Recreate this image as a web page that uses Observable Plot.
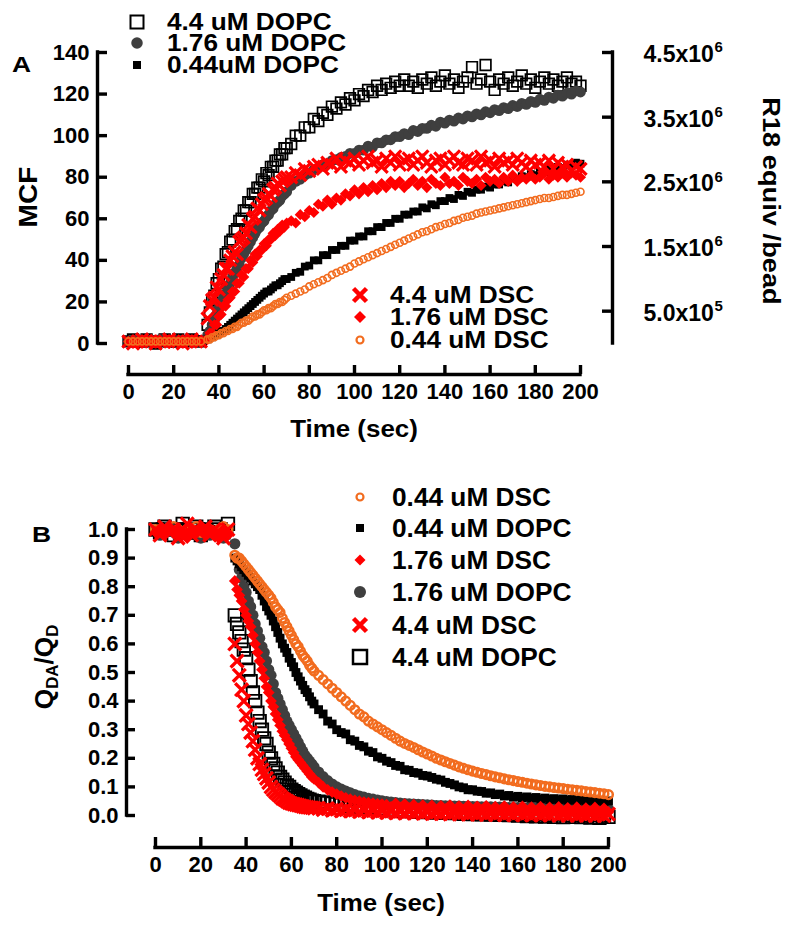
<!DOCTYPE html>
<html><head><meta charset="utf-8">
<script src="https://cdn.jsdelivr.net/npm/d3@7"></script>
<script src="https://cdn.jsdelivr.net/npm/@observablehq/plot@0.6"></script>
<style>
body{margin:0;background:#fff;}
#wrap{position:relative;width:800px;height:930px;overflow:hidden;background:#fff;font-family:"Liberation Sans",Arial,Helvetica,sans-serif;font-weight:bold;}
#pa,#pb,#ov{position:absolute;left:0;}
#pa{top:0}#pb{top:450px}#ov{top:0;pointer-events:none}
#err{position:absolute;left:0;top:0;color:blue;font-size:12px}
</style></head>
<body><div id="wrap"><div id="pa"></div><div id="pb"></div><svg id="ov" width="800" height="930"></svg><div id="err"></div></div>
<script>
// ---------- sample times (sec) ----------
const tSec = [0,2,4,6,8,10,12,14,16,18,20,22,24,26,28,30,32,
35,36,37,38,39,40,41,42,43,44,45,46,47,48,49,50,51,52,53,54,55,56,57,58,59,60,61,62,63,64,65,66,67,68,69,70,
72,74,76,78,80,82,84,86,88,90,92,94,96,98,100,102,104,106,108,110,112,114,116,118,120,122,124,126,128,130,132,134,136,138,140,142,144,146,148,150,152,154,156,158,160,162,164,166,168,170,172,174,176,178,180,182,184,186,188,190,192,194,196,198,200];

// ---------- Panel A: MCF ----------
const mcfDopc44 = [1,2,1,1,2,1,0,1,2,1,1,2,1,1,2,1,1,
9,15,21,23,29,31,36,37,43,44,49,50,54,55,59,60,64,64,68,68,72,72,75,75,79,78,82,81,85,85,88,88,91,91,94,94,
96,100,100,104,104,108,107,111,110,114,113,116,115,118,117,120,119,122,121,124,122,125,123,126,124,127,124,126,123,127,125,128,124,126,129,125,127,123,126,128,133,125,127,134,126,122,127,125,128,124,126,129,125,127,123,126,128,125,127,124,126,128,125,126,124];
const mcfDopc176 = [1,1,2,1,1,1,1,2,1,1,1,1,1,2,1,1,1,
4,6,9,11,14,17,20,22,24,27,29,32,34,36,38,41,43,45,47,49,51,53,55,56,58,59,61,62,64,65,67,68,69,71,72,73,
76,78,79,81,82,83.5,84.5,86,86.5,88,88.5,89.5,90,91.5,91.5,93,93,95,94.5,96.5,96.5,98,98,99.5,99.5,101,100.5,102.5,102,103.5,103.5,105,104.5,106.5,106,107.5,107,108.5,108,109.5,109,110.5,110,111.5,111,112.5,112,113.5,113,114.5,114,115.5,115,116.5,116,117.5,117,118.5,118,119.5,119,120.5,120,121.5,121];
const mcfDopc044 = [1,1,1,0,1,1,1,1,1,1,0,1,1,1,1,1,1,
2,3,3,4,4,5,6,6,7,8,9,10,11,12,13,14,15,16,17,18,19,20,21,22,23,24,25,25,26,27,28,28,29,30,31,31,
32,34,34.5,37,37.5,40,40,42.5,42.5,45,45,47,47,49.5,49.5,51.5,51.5,54,54,56,56,58,58,60,60,62,62,63.5,63.5,65.5,65,67,66.5,68.5,68.5,70,69.5,71.5,71,73,72.5,74,74,75.5,75,76.5,76.5,78,77.5,79.5,79,80.5,80,81.5,81,82.5,82.5,84,83.5,85,84.5,86,85.5,87,86.5];
const mcfDsc44 = [1,0,1,2,1,1,0,1,1,2,1,1,0,1,2,1,1,
12,18,21,22,27,26,31,33,36,36,40,42,44,43,49,50,51,53,57,56,60,61,65,64,67,69,70,72,71,74,75,77,76,78,79,80,
80,82,81,84,83,85,86,84,87,86,89,85,88,87,89,86,88,90,87,88,85,89,87,90,86,88,89,86,88,90,87,85,88,89,86,88,90,87,86,89,88,86,90,87,88,85,89,87,88,86,89,87,85,88,86,87,85,88,84,87,85,86,83,85,84];
const mcfDsc176 = [1,1,0,1,1,2,1,1,1,0,1,1,1,2,1,1,1,
2,5,5,9,9,13,14,18,18,21,22,25,25,29,29,33,32,36,36,40,39,43,42,45,45,48,47,50,50,53,52,55,54,57,56,58,
59,58,62,61,64,63,67,66,69,67,70,69,72,71,74,72,75,73,76,74,77,75,78,76,78,75,77,79,76,78,75,79,77,76,80,77,78,76,80,78,77,79,76,80,78,79,77,80,78,81,78,80,79,81,79,80,82,79,81,80,82,80,82,81,80];
const mcfDsc044 = [1,1,1,1,1,1,1,1,1,1,1,1,1,1,1,1,1,
2,2,3,3,4,4,5,5,6,6,7,7,8,8,9,10,10,11,11,12,13,13,14,14,15,16,16,17,17,18,19,19,20,20,21,22,
23,24,25,26,27.5,28.5,29.5,30.5,31.5,33,34,35,36,37,38.5,39.5,40.5,41.5,42.5,43.5,44.5,45.5,46.5,47.5,48.5,49.5,50.5,51.5,52.5,53.5,54,55,56,56.5,57.5,58,59,59.5,60.5,61,61.5,62.5,63,63.5,64,64.5,65,65.5,66,66.5,67,67.5,68,68.5,69,69.5,70,70,70.5,71,71.5,71.5,72,72.5,73];

// ---------- Panel B: QDA/QD ----------
const qDopc44 = [1.0,0.99,1.01,1.0,0.98,1.0,1.02,0.99,1.0,1.01,0.98,1.0,0.99,1.01,1.0,0.99,1.02,
0.70,0.67,0.64,0.61,0.58,0.55,0.51,0.47,0.43,0.40,0.36,0.33,0.30,0.27,0.25,0.22,0.20,0.18,0.165,0.15,0.135,0.125,0.115,0.105,0.10,0.09,0.085,0.08,0.075,0.07,0.066,0.062,0.058,0.055,0.052,0.05,
0.048,0.046,0.044,0.042,0.04,0.038,0.036,0.034,0.032,0.03,0.028,0.027,0.025,0.024,0.022,0.021,0.018,0.02,0.016,0.019,0.015,0.017,0.013,0.016,0.012,0.014,0.01,0.013,0.009,0.012,0.008,0.011,0.006,0.01,0.005,0.009,0.004,0.008,0.003,0.007,0.002,0.006,0.001,0.005,0,0.004,-0.002,0.003,-0.003,0.004,-0.004,0.002,-0.005,0.003,-0.006,0.001,-0.005,0.002,-0.006,0,-0.007,0.001,-0.008,0,-0.005];
const qDopc176 = [1.0,0.98,1.0,1.01,0.99,0.97,1.0,0.98,1.0,0.99,0.97,1.0,0.98,0.99,1.0,0.97,0.99,
0.95,0.90,0.86,0.83,0.80,0.78,0.75,0.73,0.70,0.67,0.645,0.62,0.59,0.57,0.54,0.51,0.49,0.46,0.43,0.41,0.39,0.37,0.35,0.33,0.315,0.30,0.285,0.27,0.255,0.24,0.225,0.21,0.20,0.19,0.18,0.17,
0.152,0.136,0.122,0.11,0.10,0.092,0.085,0.079,0.073,0.068,0.064,0.06,0.057,0.054,0.051,0.049,0.047,0.045,0.043,0.042,0.041,0.04,0.039,0.038,0.037,0.036,0.035,0.035,0.034,0.034,0.033,0.033,0.032,0.032,0.031,0.031,0.03,0.03,0.03,0.029,0.029,0.029,0.028,0.028,0.028,0.027,0.027,0.027,0.026,0.026,0.026,0.026,0.025,0.025,0.025,0.025,0.024,0.024,0.024,0.024,0.023,0.023,0.023,0.023,0.022];
const qDopc044 = [1.0,1.01,0.99,1.0,1.0,0.99,1.01,1.0,0.98,1.0,1.01,0.99,1.0,1.0,0.99,1.01,1.0,
0.90,0.89,0.88,0.87,0.86,0.85,0.84,0.83,0.82,0.81,0.80,0.79,0.77,0.75,0.73,0.715,0.70,0.68,0.66,0.64,0.62,0.60,0.585,0.57,0.55,0.535,0.52,0.50,0.485,0.47,0.455,0.44,0.43,0.415,0.40,0.39,
0.37,0.355,0.33,0.32,0.30,0.29,0.285,0.265,0.26,0.245,0.24,0.225,0.22,0.205,0.2,0.19,0.185,0.175,0.172,0.16,0.158,0.15,0.148,0.14,0.138,0.133,0.127,0.124,0.116,0.112,0.107,0.1,0.097,0.09,0.09,0.085,0.084,0.078,0.079,0.073,0.075,0.068,0.07,0.064,0.067,0.062,0.065,0.06,0.063,0.058,0.061,0.056,0.059,0.055,0.058,0.053,0.056,0.052,0.055,0.051,0.054,0.05,0.053,0.049,0.051];
const qDsc044 = [1.0,1.0,0.99,1.0,1.01,1.0,0.99,1.0,1.0,1.01,0.99,1.0,1.0,0.99,1.0,1.01,1.0,
0.91,0.90,0.90,0.89,0.88,0.87,0.86,0.85,0.84,0.83,0.82,0.81,0.80,0.79,0.78,0.77,0.76,0.745,0.73,0.72,0.71,0.69,0.675,0.66,0.645,0.63,0.615,0.60,0.59,0.575,0.56,0.55,0.54,0.525,0.515,0.505,
0.49,0.475,0.46,0.445,0.43,0.415,0.40,0.385,0.37,0.355,0.345,0.33,0.32,0.31,0.30,0.29,0.28,0.27,0.26,0.252,0.245,0.238,0.23,0.222,0.215,0.208,0.20,0.194,0.188,0.182,0.176,0.17,0.165,0.16,0.155,0.151,0.147,0.143,0.139,0.135,0.132,0.128,0.125,0.122,0.119,0.116,0.113,0.11,0.107,0.105,0.102,0.10,0.098,0.096,0.094,0.092,0.09,0.088,0.086,0.084,0.082,0.08,0.078,0.076,0.073];
const qDsc176 = [0.99,1.0,0.98,1.01,0.99,1.0,0.98,0.97,1.0,0.99,1.01,0.98,1.0,0.99,0.97,1.0,0.98,
0.82,0.79,0.77,0.75,0.72,0.70,0.68,0.66,0.63,0.60,0.57,0.54,0.51,0.48,0.45,0.43,0.40,0.38,0.355,0.335,0.315,0.295,0.28,0.265,0.25,0.235,0.22,0.205,0.195,0.185,0.175,0.165,0.155,0.145,0.135,0.128,
0.115,0.10,0.09,0.082,0.075,0.068,0.062,0.057,0.053,0.05,0.047,0.045,0.043,0.041,0.04,0.038,0.03,0.042,0.028,0.04,0.026,0.038,0.025,0.036,0.022,0.035,0.02,0.034,0.022,0.036,0.018,0.033,0.02,0.035,0.017,0.032,0.019,0.034,0.016,0.031,0.018,0.033,0.015,0.03,0.017,0.032,0.014,0.029,0.016,0.031,0.013,0.028,0.015,0.03,0.012,0.027,0.014,0.029,0.011,0.026,0.013,0.028,0.01,0.025,0.012];
const qDsc44 = [1.0,0.98,1.01,0.99,1.0,0.97,1.0,1.02,0.98,1.0,0.99,1.01,0.98,1.0,0.99,0.97,1.0,
0.60,0.54,0.49,0.44,0.40,0.35,0.32,0.29,0.26,0.23,0.20,0.18,0.16,0.145,0.13,0.115,0.10,0.09,0.082,0.075,0.068,0.06,0.055,0.05,0.045,0.042,0.04,0.038,0.036,0.034,0.032,0.03,0.029,0.028,0.027,0.026,
0.025,0.02,0.024,0.018,0.022,0.016,0.02,0.015,0.019,0.013,0.018,0.012,0.017,0.011,0.016,0.01,0.015,0.009,0.014,0.008,0.014,0.008,0.013,0.007,0.013,0.006,0.012,0.006,0.012,0.005,0.011,0.005,0.011,0.004,0.01,0.004,0.01,0.003,0.01,0.003,0.009,0.002,0.009,0.002,0.009,0.002,0.008,0.001,0.008,0.001,0.008,0.001,0.007,0,0.007,0,0.007,0,0.006,0,0.006,-0.001,0.006,-0.001,0.005];

// ---------- ticks ----------
const xTicks = [0,20,40,60,80,100,120,140,160,180,200];
const yTicksA = [0,20,40,60,80,100,120,140];
const yTicksB = [0,0.1,0.2,0.3,0.4,0.5,0.6,0.7,0.8,0.9,1.0];
const r18Ticks = [5e5,1.5e6,2.5e6,3.5e6,4.5e6];
const r18Mant = ["5.0x10","1.5x10","2.5x10","3.5x10","4.5x10"];
const r18Exp = ["5","6","6","6","6"];
const r18Max = 4.5e6, mcfMax = 140;

const RED = "#ff0000", ORANGE = "#f26c1f", GRAY = "#3f3f3f", BLACK = "#000";
const FONT = '"Liberation Sans", Arial, Helvetica, sans-serif';
const AXW = 3.4;

// length check
const all = {mcfDopc44,mcfDopc176,mcfDopc044,mcfDsc44,mcfDsc176,mcfDsc044,qDopc44,qDopc176,qDopc044,qDsc044,qDsc176,qDsc44};
const bad = Object.entries(all).filter(([k,v]) => v.length !== tSec.length).map(([k,v]) => k + ":" + v.length);
if (bad.length) document.getElementById("err").textContent = "len " + tSec.length + " bad " + bad.join(" ");

const dots = (vals, o) => Plot.dot(vals, {x: tSec, y: vals, ...o});

// ---------- Panel A ----------
const WA = 800, HA = 450;
const LA = 97, RA = 612, TA = 52, BA = 374, X0A = 128, X1A = 580, Y0A = 343;
const plotA = Plot.plot({
  width: WA, height: HA,
  marginLeft: LA, marginRight: WA - RA, marginTop: TA, marginBottom: HA - BA,
  x: {domain: [0, 200], range: [X0A, X1A]},
  y: {domain: [0, mcfMax], range: [Y0A, TA]},
  style: {fontFamily: FONT, fontWeight: "bold", fontSize: "22px", background: "transparent", overflow: "visible", color: "#000"},
  marks: [
    Plot.ruleX([0], {y1: 0, y2: mcfMax, dx: LA - X0A, strokeWidth: AXW, strokeLinecap: "square"}),
    Plot.ruleX([200], {y1: 0, y2: mcfMax, dx: RA - X1A, strokeWidth: AXW, strokeLinecap: "square"}),
    Plot.ruleY([0], {x1: 0, x2: 200, dy: BA - Y0A, strokeWidth: AXW, strokeLinecap: "square"}),
    Plot.tickX(xTicks, {x: d => d, insetTop: (BA - TA) - 9, strokeWidth: AXW}),
    Plot.tickY(yTicksA, {y: d => d, insetRight: (RA - LA) - 10, strokeWidth: AXW}),
    Plot.tickY(r18Ticks, {y: d => d * mcfMax / r18Max, insetLeft: (RA - LA) - 10, strokeWidth: AXW}),
    Plot.axisX({ticks: xTicks, tickSize: 0, tickPadding: 9, label: null, fontSize: 22}),
    Plot.axisY({ticks: yTicksA, tickSize: 0, tickPadding: 8, label: null, fontSize: 22}),
    Plot.text(r18Ticks, {y: d => d * mcfMax / r18Max, text: (d, i) => r18Mant[i], frameAnchor: "right", dx: 31, dy: 2, textAnchor: "start", fontSize: 23}),
    Plot.text(r18Ticks, {y: d => d * mcfMax / r18Max, text: (d, i) => r18Exp[i], frameAnchor: "right", dx: 102, dy: -5, textAnchor: "start", fontSize: 15}),
    dots(mcfDopc44, {symbol: "square", r: 6, fill: "none", stroke: BLACK, strokeWidth: 1.7}),
    dots(mcfDopc176, {symbol: "circle", r: 5.4, fill: GRAY, stroke: "none"}),
    dots(mcfDopc044, {symbol: "square", r: 4.4, fill: BLACK, stroke: "none"}),
    dots(mcfDsc44, {symbol: "times", r: 5.6, fill: "none", stroke: RED, strokeWidth: 3.2}),
    dots(mcfDsc176, {symbol: "diamond2", r: 5, fill: RED, stroke: "none"}),
    dots(mcfDsc044, {symbol: "circle", r: 3.5, fill: "none", stroke: ORANGE, strokeWidth: 1.6})
  ]
});
document.getElementById("pa").appendChild(plotA);

// ---------- Panel B ----------
const WB = 800, HB = 480;
const LB = 126, RB = 608, TB = 79, BB = 397, X0B = 155, X1B = 608, Y0B = 365;
const plotB = Plot.plot({
  width: WB, height: HB,
  marginLeft: LB, marginRight: WB - RB, marginTop: TB, marginBottom: HB - BB,
  x: {domain: [0, 200], range: [X0B, X1B]},
  y: {domain: [0, 1], range: [Y0B, TB]},
  style: {fontFamily: FONT, fontWeight: "bold", fontSize: "22px", background: "transparent", overflow: "visible", color: "#000"},
  marks: [
    Plot.ruleX([0], {y1: 0, y2: 1, dx: LB - X0B, strokeWidth: AXW, strokeLinecap: "square"}),
    Plot.ruleY([0], {x1: 0, x2: 200, dy: BB - Y0B, strokeWidth: AXW, strokeLinecap: "square"}),
    Plot.tickX(xTicks, {x: d => d, insetTop: (BB - TB) - 10, strokeWidth: AXW}),
    Plot.tickY(yTicksB, {y: d => d, insetRight: (RB - LB) - 9, strokeWidth: AXW}),
    Plot.axisX({ticks: xTicks, tickSize: 0, tickPadding: 9, label: null, fontSize: 22}),
    Plot.axisY({ticks: yTicksB, tickSize: 0, tickPadding: 8, label: null, fontSize: 22, tickFormat: d3.format(".1f")}),
    dots(qDopc44, {symbol: "square", r: 7, fill: "none", stroke: BLACK, strokeWidth: 1.9}),
    dots(qDopc176, {symbol: "circle", r: 5.6, fill: GRAY, stroke: "none"}),
    dots(qDopc044, {symbol: "square", r: 5, fill: BLACK, stroke: "none"}),
    dots(qDsc044, {symbol: "circle", r: 4.3, fill: "none", stroke: ORANGE, strokeWidth: 2.5}),
    dots(qDsc176, {symbol: "diamond2", r: 5.3, fill: RED, stroke: "none"}),
    dots(qDsc44, {symbol: "times", r: 5.9, fill: "none", stroke: RED, strokeWidth: 3.3})
  ]
});
document.getElementById("pb").appendChild(plotB);

// ---------- overlay: titles and legends ----------
const ov = d3.select("#ov");
function label(txt, x, y, size, o = {}) {
  const t = ov.append("text")
    .attr("transform", `translate(${x},${y}) rotate(${o.rotate || 0}) scale(${o.sx || 1},1)`)
    .attr("text-anchor", o.anchor || "start")
    .attr("font-size", size).attr("font-weight", "bold")
    .attr("font-family", FONT).attr("fill", "#000");
  if (o.html) t.html(txt); else t.text(txt);
  return t;
}
function sym(kind, x, y, s) {
  if (kind === "osq") ov.append("rect").attr("x", x - s/2).attr("y", y - s/2).attr("width", s).attr("height", s).attr("fill", "#fff").attr("stroke", BLACK).attr("stroke-width", s > 13 ? 2.5 : 2);
  if (kind === "sq") ov.append("rect").attr("x", x - s/2).attr("y", y - s/2).attr("width", s).attr("height", s).attr("fill", BLACK);
  if (kind === "ci") ov.append("circle").attr("cx", x).attr("cy", y).attr("r", s/2).attr("fill", GRAY);
  if (kind === "oc") ov.append("circle").attr("cx", x).attr("cy", y).attr("r", s/2).attr("fill", "#fff").attr("stroke", ORANGE).attr("stroke-width", 2.2);
  if (kind === "dm") ov.append("path").attr("d", `M${x},${y - s/2}L${x + s/2},${y}L${x},${y + s/2}L${x - s/2},${y}Z`).attr("fill", RED);
  if (kind === "x") ov.append("path").attr("d", `M${x - s/2},${y - s/2}L${x + s/2},${y + s/2}M${x - s/2},${y + s/2}L${x + s/2},${y - s/2}`).attr("stroke", RED).attr("stroke-width", 4.5).attr("fill", "none");
}

// panel letters and axis titles
label("A", 12, 72, 22, {sx: 1.2});
label("MCF", 37, 197, 26, {rotate: -90, anchor: "middle", sx: 1.08});
label("R18 equiv /bead", 763, 201, 23.5, {rotate: 90, anchor: "middle", sx: 1.16});
label("Time (sec)", 354, 437, 24, {anchor: "middle", sx: 1.08});
label("B", 32, 542, 22, {sx: 1.2});
label('Q<tspan font-size="16" dy="5">DA</tspan><tspan dy="-5">/Q</tspan><tspan font-size="16" dy="5">D</tspan>', 53, 667, 25, {rotate: -90, anchor: "middle", sx: 1.05, html: true});
label("Time (sec)", 381, 911, 24, {anchor: "middle", sx: 1.08});

// legend A top
const legATop = [["osq", "4.4 uM DOPC", 13], ["ci", "1.76 uM DOPC", 11.5], ["sq", "0.44uM DOPC", 8]];
const legATopY = [22, 43, 65];
legATop.forEach(([k, t, s], i) => { sym(k, 137, legATopY[i], s); label(t, 167, legATopY[i] + 8.2, 23, {sx: 1.14}); });
// legend A bottom
const legABot = [["x", "4.4 uM DSC", 13], ["dm", "1.76 uM DSC", 12], ["oc", "0.44 uM DSC", 7]];
const legABotY = [295, 317, 340];
legABot.forEach(([k, t, s], i) => { sym(k, 360, legABotY[i], s); label(t, 390, legABotY[i] + 8.2, 23, {sx: 1.14}); });
// legend B
const legB = [["oc", "0.44 uM DSC", 7], ["sq", "0.44 uM DOPC", 8], ["dm", "1.76 uM DSC", 11], ["ci", "1.76 uM DOPC", 12], ["x", "4.4 uM DSC", 13], ["osq", "4.4 uM DOPC", 14]];
const legBY = [497, 528, 560, 592, 625, 657];
legB.forEach(([k, t, s], i) => { sym(k, 360, legBY[i], s); label(t, 392, legBY[i] + 9, 25, {sx: 1.05}); });
</script>
</body></html>
